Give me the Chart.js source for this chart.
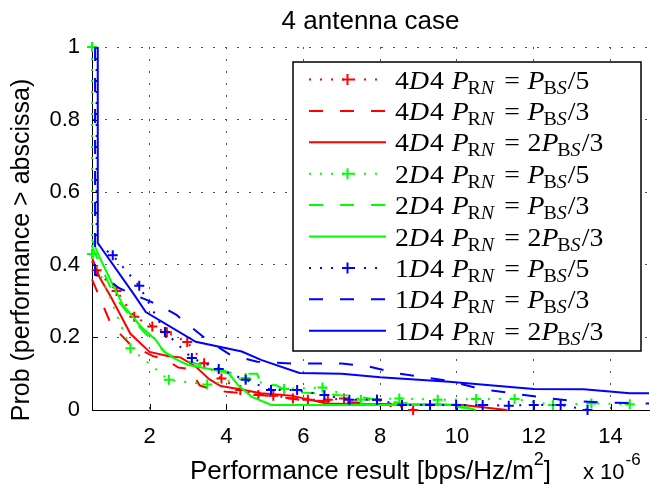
<!DOCTYPE html>
<html><head><meta charset="utf-8">
<script src="https://cdn.jsdelivr.net/npm/chart.js@4.4.0/dist/chart.umd.min.js"></script>
<style>html,body{margin:0;padding:0;background:#fff;}#wrap{width:656px;height:490px;}</style>
</head><body><div id="wrap"><canvas id="c" width="656" height="490"></canvas></div>
<script>
const xTicks = [2, 4, 6, 8, 10, 12, 14];
const yTicks = [0, 0.2, 0.4, 0.6, 0.8, 1];

const red5X = [0.5, 0.62, 1.14, 1.6, 2.07, 2.45, 2.98, 3.42, 3.87, 4.36, 4.83, 5.22, 5.73, 6.12, 6.64, 7.06, 7.92, 8.86];
const red5Y = [0.41, 0.385, 0.328, 0.257, 0.23, 0.214, 0.187, 0.129, 0.087, 0.055, 0.041, 0.039, 0.032, 0.028, 0.028, 0.032, 0.028, 0.0];
const red3X = [0.5, 0.7, 1.0, 1.5, 2.1, 2.4, 2.75, 3.05, 3.3, 3.6, 4.0, 4.6, 5.0, 5.6, 5.9, 6.5, 7.5, 8.2, 8.5];
const red3Y = [0.36, 0.31, 0.235, 0.18, 0.148, 0.14, 0.117, 0.113, 0.068, 0.057, 0.05, 0.045, 0.04, 0.033, 0.028, 0.025, 0.02, 0.015, 0.0];
const red23X = [0.5, 0.7, 1.0, 1.5, 2.0, 2.5, 2.8, 3.2, 3.55, 3.85, 4.35, 4.9, 5.3, 5.7, 6.1, 6.6, 7.5, 8.5, 9.5, 10.15, 11.3];
const red23Y = [0.42, 0.365, 0.31, 0.21, 0.16, 0.148, 0.145, 0.12, 0.085, 0.066, 0.057, 0.046, 0.043, 0.039, 0.03, 0.018, 0.016, 0.015, 0.015, 0.014, 0.0];
const green5X = [0.5, 0.5, 1.5, 2.5, 3.5, 4.5, 5.5, 6.5, 7.5, 8.5, 9.5, 10.5, 11.5, 12.5, 13.5, 14.5];
const green5Y = [1.0, 0.43, 0.17, 0.083, 0.07, 0.088, 0.058, 0.062, 0.028, 0.032, 0.028, 0.03, 0.03, 0.014, 0.018, 0.016];
const green3X = [0.5, 0.8, 1.1, 1.3, 1.6, 1.85, 2.2, 2.45, 2.8, 3.2, 3.7, 4.2, 4.8, 4.9, 5.3, 5.6, 6.5, 7.5, 8.5, 9.5, 10.6];
const green3Y = [0.45, 0.38, 0.31, 0.285, 0.245, 0.215, 0.18, 0.155, 0.14, 0.128, 0.115, 0.1, 0.1, 0.07, 0.068, 0.05, 0.045, 0.035, 0.02, 0.015, 0.0];
const green23X = [0.5, 0.7, 1.0, 1.3, 1.77, 2.16, 2.37, 2.63, 3.0, 3.7, 4.06, 4.3, 4.65, 5.17, 10.0, 10.5];
const green23Y = [0.47, 0.42, 0.354, 0.29, 0.23, 0.193, 0.161, 0.143, 0.124, 0.11, 0.101, 0.069, 0.037, 0.014, 0.014, 0.0];
const blue5X = [0.62, 0.62, 1.04, 1.73, 2.4, 3.1, 3.8, 4.5, 5.16, 5.84, 6.55, 7.2, 7.92, 8.57, 9.3, 9.98, 10.67, 11.35, 12.0, 12.7, 13.4];
const blue5Y = [1.0, 0.46, 0.426, 0.342, 0.215, 0.143, 0.113, 0.083, 0.055, 0.055, 0.041, 0.028, 0.028, 0.014, 0.014, 0.014, 0.014, 0.012, 0.014, 0.014, 0.0];
const blue3X = [0.58, 0.58, 0.87, 1.2, 1.6, 2.0, 2.4, 2.7, 3.0, 3.5, 4.1, 4.8, 5.7, 7.0, 7.7, 8.5, 9.8, 10.6, 11.3, 12.2, 13.0, 14.0, 15.0];
const blue3Y = [1.0, 0.372, 0.363, 0.336, 0.317, 0.3, 0.28, 0.262, 0.235, 0.193, 0.152, 0.133, 0.128, 0.128, 0.12, 0.1, 0.08, 0.058, 0.048, 0.035, 0.025, 0.02, 0.018];
const blue23X = [0.65, 0.65, 1.6, 1.9, 3.2, 4.4, 4.9, 5.9, 7.0, 8.0, 9.8, 12.0, 13.3, 14.5, 15.0];
const blue23Y = [1.0, 0.46, 0.317, 0.27, 0.188, 0.161, 0.138, 0.102, 0.1, 0.09, 0.078, 0.058, 0.057, 0.046, 0.046];

const legendPrefix = ['4', '4', '4', '2', '2', '2', '1', '1', '1'];
const legendCoef = ['', '', '2', '', '', '2', '', '', '2'];
const legendDen = ['5', '3', '3', '5', '3', '3', '5', '3', '3'];

const seriesX = [red5X, red3X, red23X, green5X, green3X, green23X, blue5X, blue3X, blue23X];
const seriesY = [red5Y, red3Y, red23Y, green5Y, green3Y, green23Y, blue5Y, blue3Y, blue23Y];

const RED = '#ff0000', GREEN = '#00ff00', BLUE = '#0000ff';
const DOT = [2, 9], DASH = [14, 17], SOLID = [];
const styles = [
  {color: RED, dash: DOT, marker: true, markFrom: 1},
  {color: RED, dash: DASH, marker: false},
  {color: RED, dash: SOLID, marker: false},
  {color: GREEN, dash: DOT, marker: true, markFrom: 0},
  {color: GREEN, dash: DASH, marker: false},
  {color: GREEN, dash: SOLID, marker: false},
  {color: BLUE, dash: DOT, marker: true, markFrom: 2},
  {color: BLUE, dash: DASH, marker: false},
  {color: BLUE, dash: SOLID, marker: false}
];

const FONT = "'Liberation Sans', Arial, Helvetica, sans-serif";
const SERIF = "'Liberation Serif', 'Times New Roman', serif";

const datasets = seriesX.map((xs, i) => {
  const st = styles[i];
  return {
    label: legendPrefix[i] + 'D4 P_RN = ' + legendCoef[i] + 'P_BS/' + legendDen[i],
    data: xs.map((x, k) => ({x: x, y: seriesY[i][k]})),
    showLine: true,
    borderColor: st.color,
    backgroundColor: st.color,
    borderWidth: 2,
    borderDash: st.dash,
    tension: 0,
    fill: false,
    pointStyle: 'cross',
    pointRadius: (ctx) => (st.marker && ctx.dataIndex >= st.markFrom) ? 5 : 0,
    pointHoverRadius: 0,
    pointBorderWidth: 2,
    pointBorderColor: st.color,
    clip: false,
    order: 8 - i
  };
});

function drawMath(ctx, x0, y, i) {
  const R = `25px ${SERIF}`, I = `italic 25px ${SERIF}`;
  const Rs = `18px ${SERIF}`, Is = `italic 18px ${SERIF}`;
  ctx.save();
  ctx.translate(x0, y);
  ctx.scale(1.11, 1);
  ctx.fillStyle = '#000';
  ctx.textAlign = 'left';
  ctx.textBaseline = 'alphabetic';
  let x = 0;
  const seg = (t, f, dy) => { ctx.font = f; ctx.fillText(t, x, dy || 0); x += ctx.measureText(t).width; };
  seg(legendPrefix[i], R); seg('D', I); x += 1; seg('4', R);
  x += 7;
  seg('P', I); x -= 1; seg('R', Rs, 5); seg('N', Is, 5);
  x += 9;
  seg('=', R);
  x += 7;
  if (legendCoef[i]) seg(legendCoef[i], R);
  seg('P', I); x -= 1; seg('B', Rs, 5); seg('S', Is, 5);
  x += 1;
  seg('/', R); seg(legendDen[i], R);
  ctx.restore();
}

const decor = {
  id: 'decor',
  beforeDatasetsDraw(chart) {
    const {ctx, chartArea: a, scales: {x, y}} = chart;
    ctx.save();
    ctx.strokeStyle = '#000';
    ctx.lineWidth = 1;
    ctx.setLineDash([]);
    ctx.beginPath();
    xTicks.forEach(v => { const px = Math.round(x.getPixelForValue(v)) + 0.5; ctx.moveTo(px, a.bottom); ctx.lineTo(px, a.bottom - 6); });
    yTicks.forEach(v => { const py = Math.round(y.getPixelForValue(v)) + 0.5; ctx.moveTo(a.left, py); ctx.lineTo(a.left + 6, py); });
    ctx.stroke();
    ctx.restore();
  },
  afterDraw(chart) {
    const {ctx, chartArea: a} = chart;
    ctx.save();
    const cx = (a.left + a.right) / 2;
    // title
    ctx.fillStyle = '#000';
    ctx.font = `26px ${FONT}`;
    ctx.textAlign = 'center';
    ctx.textBaseline = 'alphabetic';
    ctx.fillText('4 antenna case', cx, 29);
    // x label
    ctx.font = `26px ${FONT}`;
    const main = 'Performance result [bps/Hz/m';
    const wMain = ctx.measureText(main).width;
    ctx.font = `18px ${FONT}`;
    const wSup = ctx.measureText('2').width;
    ctx.font = `26px ${FONT}`;
    const wEnd = ctx.measureText(']').width;
    let sx = cx - (wMain + wSup + wEnd) / 2;
    ctx.textAlign = 'left';
    ctx.fillText(main, sx, 479);
    ctx.font = `18px ${FONT}`;
    ctx.fillText('2', sx + wMain, 465);
    ctx.font = `26px ${FONT}`;
    ctx.fillText(']', sx + wMain + wSup, 479);
    // exponent
    ctx.font = `22px ${FONT}`;
    ctx.fillText('x 10', 583, 479);
    const w10 = ctx.measureText('x 10').width;
    ctx.font = `17px ${FONT}`;
    ctx.fillText('-6', 583 + w10 + 1, 465);
    // y label
    ctx.save();
    ctx.translate(22, 250);
    ctx.rotate(-Math.PI / 2);
    ctx.font = `25px ${FONT}`;
    ctx.textAlign = 'center';
    ctx.textBaseline = 'middle';
    ctx.fillText('Prob (performance > abscissa)', 0, 0);
    ctx.restore();
    // legend
    const bx = 293, by = 62, bw = 348, bh = 289;
    ctx.fillStyle = '#fff';
    ctx.fillRect(bx, by, bw, bh);
    ctx.strokeStyle = '#000';
    ctx.lineWidth = 1.5;
    ctx.setLineDash([]);
    ctx.strokeRect(bx, by, bw, bh);
    styles.forEach((st, i) => {
      const ry = by + 17.5 + i * 31.4;
      ctx.strokeStyle = st.color;
      ctx.lineWidth = 2;
      ctx.setLineDash(st.dash);
      ctx.beginPath();
      ctx.moveTo(309, ry); ctx.lineTo(386, ry);
      ctx.stroke();
      ctx.setLineDash([]);
      if (st.marker) {
        ctx.beginPath();
        ctx.moveTo(342, ry); ctx.lineTo(353, ry);
        ctx.moveTo(347.5, ry - 5.5); ctx.lineTo(347.5, ry + 5.5);
        ctx.stroke();
      }
      drawMath(ctx, 395, ry + 9, i);
    });
    ctx.restore();
  }
};

new Chart(document.getElementById('c'), {
  type: 'scatter',
  data: {datasets: datasets},
  plugins: [decor],
  options: {
    responsive: false,
    animation: false,
    devicePixelRatio: 1,
    layout: {padding: {top: 47, left: 0, right: 1, bottom: 0}},
    plugins: {legend: {display: false}, title: {display: false}, tooltip: {enabled: false}},
    scales: {
      x: {
        type: 'linear', min: 0.5, max: 15,
        afterBuildTicks: (s) => { s.ticks = xTicks.map(v => ({value: v})); },
        afterFit: (s) => { s.height = 80; },
        grid: {color: '#555', lineWidth: 1, drawTicks: false},
        border: {display: true, color: '#000', width: 1, dash: [2, 10]},
        ticks: {font: {size: 22, family: FONT}, color: '#000', padding: 14, maxRotation: 0, autoSkip: false, callback: (v) => String(v)}
      },
      y: {
        type: 'linear', min: 0, max: 1,
        afterBuildTicks: (s) => { s.ticks = yTicks.map(v => ({value: v})); },
        afterFit: (s) => { s.width = 92; },
        grid: {color: '#555', lineWidth: 1, drawTicks: false},
        border: {display: true, color: '#000', width: 1, dash: [2, 10]},
        ticks: {font: {size: 22, family: FONT}, color: '#000', padding: 12, autoSkip: false, callback: (v) => String(v)}
      }
    }
  }
});
</script>
</body></html>
